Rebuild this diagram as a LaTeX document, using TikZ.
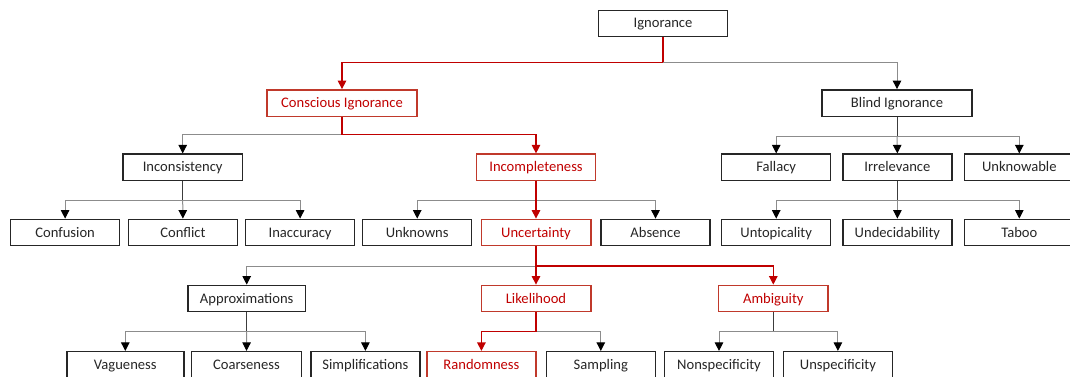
\documentclass[tikz,border=0pt]{standalone}
\usepackage{fontspec}
\setmainfont{Carlito}
\usetikzlibrary{arrows.meta}
\definecolor{rl}{HTML}{C00000}
\definecolor{rb}{HTML}{C0392B}
\definecolor{gl}{HTML}{8C8C8C}
\definecolor{dk}{HTML}{262626}
\begin{document}
\begin{tikzpicture}[x=1pt,y=-1pt,
  box/.style={draw=dk, line width=1.4pt, minimum height=26.4pt, inner sep=0pt,
    text height=11pt, text depth=2pt,
    font=\fontsize{14.6}{16}\selectfont, text=dk},
  rbox/.style={box, draw=rb, text=rl},
  gstub/.style={draw=dk!90, line width=1pt},
  gconn/.style={draw=gl, line width=1pt, -{Triangle[length=8.5pt,width=8.5pt,color=black]}},
  rstub/.style={draw=rl, line width=1.2pt},
  rconn/.style={draw=rl, line width=1.2pt, -{Triangle[length=8.5pt,width=8.5pt,color=rl]}}
]
\useasboundingbox (0,0) rectangle (1070,376);
\clip (0,0) rectangle (1070,376);
% nodes
\node[box, minimum width=129.5pt] (ign) at (663,23.4) {Ignorance};
\node[rbox, minimum width=150pt] (con) at (342,103) {Conscious Ignorance};
\node[box, minimum width=150pt] (bli) at (897,103) {Blind Ignorance};
\node[box, minimum width=119.5pt] (inc) at (182.7,167.3) {Inconsistency};
\node[rbox, minimum width=119pt] (icp) at (536,167.3) {Incompleteness};
\node[box, minimum width=109pt] (fal) at (776.2,167.3) {Fallacy};
\node[box, minimum width=109pt] (irr) at (897.4,167.3) {Irrelevance};
\node[box, minimum width=110pt] (unk) at (1019.3,167.3) {Unknowable};
\node[box, minimum width=109pt] (conf) at (65.1,232.5) {Confusion};
\node[box, minimum width=109pt] (cnfl) at (182.9,232.5) {Conflict};
\node[box, minimum width=109pt] (inac) at (300.1,232.5) {Inaccuracy};
\node[box, minimum width=109pt] (unkn) at (417.2,232.5) {Unknowns};
\node[rbox, minimum width=109.6pt] (unc) at (536,232.5) {Uncertainty};
\node[box, minimum width=109pt] (abs) at (655.5,232.5) {Absence};
\node[box, minimum width=109pt] (unt) at (776.2,232.5) {Untopicality};
\node[box, minimum width=109pt] (und) at (897.4,232.5) {Undecidability};
\node[box, minimum width=110pt] (tab) at (1019.3,232.5) {Taboo};
\node[box, minimum width=117.4pt] (apx) at (246.7,298.5) {Approximations};
\node[rbox, minimum width=109.6pt] (lik) at (536,298.5) {Likelihood};
\node[rbox, minimum width=109.2pt] (amb) at (773.3,298.5) {Ambiguity};
\node[box, minimum width=117pt] (vag) at (125.3,364.8) {Vagueness};
\node[box, minimum width=109.5pt] (coa) at (246.5,364.8) {Coarseness};
\node[box, minimum width=109pt] (sim) at (365.4,364.8) {Simplifications};
\node[rbox, minimum width=109pt] (ran) at (481.4,364.8) {Randomness};
\node[box, minimum width=109pt] (sam) at (600.8,364.8) {Sampling};
\node[box, minimum width=109pt] (non) at (719,364.8) {Nonspecificity};
\node[box, minimum width=109pt] (uns) at (837.9,364.8) {Unspecificity};
% bar levels
\coordinate (b1) at (0,62.3);
\coordinate (b2) at (0,134.5);
\coordinate (b3) at (0,136.7);
\coordinate (b4) at (0,200);
\coordinate (b5) at (0,266);
\coordinate (b6) at (0,331.5);
% gray connectors
\draw[gconn] (ign.south |- b1) -| (bli.north);
\draw[gconn] (con.south |- b2) -| (inc.north);
\draw[gstub] (bli.south) -- (bli.south |- b3);
\draw[gconn] (bli.south |- b3) -| (fal.north);
\draw[gconn] (bli.south |- b3) -- (irr.north);
\draw[gconn] (bli.south |- b3) -| (unk.north);
\draw[gstub] (inc.south) -- (inc.south |- b4);
\draw[gconn] (inc.south |- b4) -| (conf.north);
\draw[gconn] (inc.south |- b4) -- (cnfl.north);
\draw[gconn] (inc.south |- b4) -| (inac.north);
\draw[gconn] (icp.south |- b4) -| (unkn.north);
\draw[gconn] (icp.south |- b4) -| (abs.north);
\draw[gstub] (irr.south) -- (irr.south |- b4);
\draw[gconn] (irr.south |- b4) -| (unt.north);
\draw[gconn] (irr.south |- b4) -- (und.north);
\draw[gconn] (irr.south |- b4) -| (tab.north);
\draw[gconn] (unc.south |- b5) -| (apx.north);
\draw[gstub] (apx.south) -- (apx.south |- b6);
\draw[gconn] (apx.south |- b6) -| (vag.north);
\draw[gconn] (apx.south |- b6) -- (coa.north);
\draw[gconn] (apx.south |- b6) -| (sim.north);
\draw[gconn] (lik.south |- b6) -| (sam.north);
\draw[gstub] (amb.south) -- (amb.south |- b6);
\draw[gconn] (amb.south |- b6) -| (non.north);
\draw[gconn] (amb.south |- b6) -| (uns.north);
% red path
\draw[rstub] (ign.south) -- (ign.south |- b1);
\draw[rconn] (ign.south |- b1) -| (con.north);
\draw[rstub] (con.south) -- (con.south |- b2);
\draw[rconn] (con.south |- b2) -| (icp.north);
\draw[rconn] (icp.south) -- (unc.north);
\draw[rconn] (unc.south) -- (lik.north);
\draw[rconn] (unc.south |- b5) -| (amb.north);
\draw[rstub] (lik.south) -- (lik.south |- b6);
\draw[rconn] (lik.south |- b6) -| (ran.north);
\end{tikzpicture}
\end{document}
